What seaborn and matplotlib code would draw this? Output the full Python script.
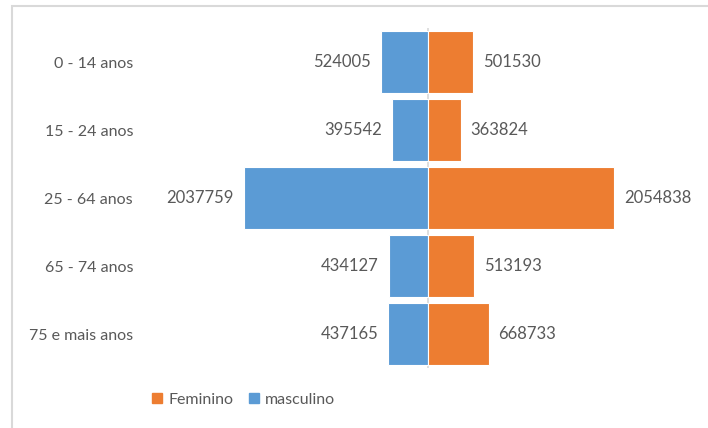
import pandas as pd
import matplotlib.pyplot as plt
import seaborn as sns
from matplotlib.patches import Patch, Rectangle

# população por faixa etária e sexo
faixas = ['0 - 14 anos', '15 - 24 anos', '25 - 64 anos', '65 - 74 anos', '75 e mais anos']
masculino = [524005, 395542, 2037759, 434127, 437165]
feminino = [501530, 363824, 2054838, 513193, 668733]

cor_fem = '#ED7D31'
cor_masc = '#5B9BD5'
cor_texto = '#595959'

df = pd.DataFrame({
    'faixa': faixas * 2,
    'valor': [-v for v in masculino] + feminino,
    'sexo': ['masculino'] * len(faixas) + ['Feminino'] * len(faixas),
})

sns.set_style('white')
plt.rcParams['font.family'] = ['Lato', 'DejaVu Sans']

fig = plt.figure(figsize=(7.08, 4.28), dpi=100)
ax = fig.add_axes([140 / 708, 1 - 368 / 428, 560 / 708, 340 / 428])

sns.barplot(data=df, x='valor', y='faixa', hue='sexo', orient='h', dodge=False,
            palette={'masculino': cor_masc, 'Feminino': cor_fem}, width=0.9,
            saturation=1, edgecolor='white', linewidth=0.8, legend=False, ax=ax)

for cont, vals in zip(ax.containers, [masculino, feminino]):
    ax.bar_label(cont, labels=[str(v) for v in vals], padding=7,
                 color=cor_texto, fontsize=12)

px = 2054838 / 186
ax.set_xlim(-(428 - 140) * px, (700 - 428) * px)
ax.axvline(0, color='#D9D9D9', linewidth=1.2, zorder=0.5)
ax.set_xlabel('')
ax.set_ylabel('')
ax.set_xticks([])
ax.tick_params(axis='y', length=0, pad=5, labelsize=11.5, labelcolor=cor_texto)
for s in ax.spines.values():
    s.set_visible(False)

handles = [Patch(color=cor_fem, label='Feminino'), Patch(color=cor_masc, label='masculino')]
fig.legend(handles=handles, loc='center left', bbox_to_anchor=(138 / 708, 1 - 400 / 428),
           ncol=2, frameon=False, fontsize=11.5, handlelength=0.6, handleheight=0.6,
           handletextpad=0.4, columnspacing=1.0, labelcolor=cor_texto)

fig.patches.append(Rectangle((12 / 708, -0.1), 1.2, 1.1 - 6 / 428, transform=fig.transFigure,
                             fill=False, edgecolor='#D9D9D9', linewidth=1.5))

fig.savefig('out.png', dpi=100)
